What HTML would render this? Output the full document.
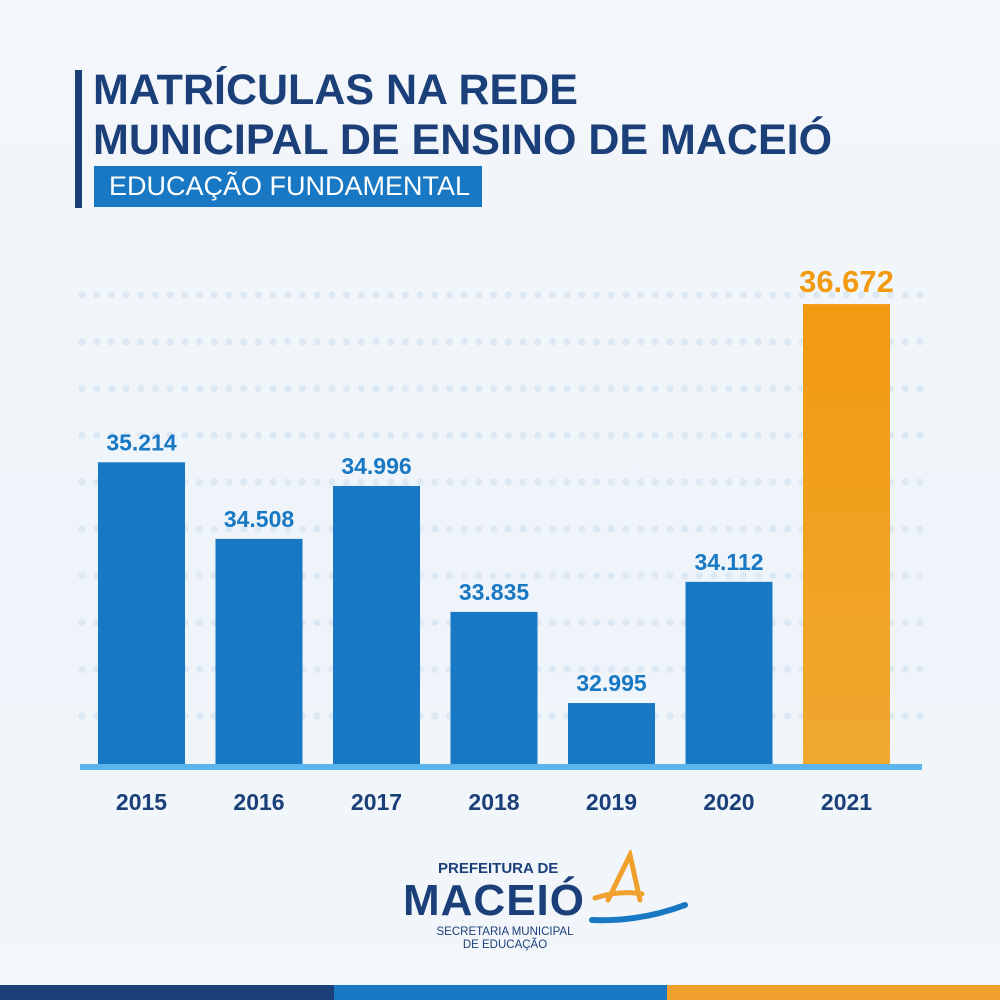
<!DOCTYPE html>
<html><head><meta charset="utf-8">
<style>
html,body{margin:0;padding:0}
body{width:1000px;height:1000px;overflow:hidden;background:linear-gradient(180deg,#f4f7fb 0%,#eef4fa 60%,#f3f7fb 100%);font-family:"Liberation Sans",sans-serif;position:relative}
.abs{position:absolute}
</style></head><body>
<div class="abs" style="left:75px;top:70px;width:7px;height:138px;background:#1b3f78"></div>
<div class="abs" style="left:93px;top:65px;font-weight:bold;font-size:43px;line-height:50px;color:#1b3f78;letter-spacing:0px">MATRÍCULAS NA REDE<br>MUNICIPAL DE ENSINO DE MACEIÓ</div>
<div class="abs" style="left:94px;top:166px;width:388px;height:41px;background:#1878c3;color:#fff;font-size:27px;line-height:41px;padding-left:15px;box-sizing:border-box">EDUCAÇÃO FUNDAMENTAL</div>
<svg class="abs" style="left:0;top:0" width="1000" height="1000" id="chart"></svg>
<div class="abs" style="left:400px;top:850px;width:300px;height:110px">
  <div class="abs" style="left:38px;top:10px;font-weight:bold;font-size:15px;color:#1b3f78">PREFEITURA DE</div>
  <div class="abs" style="left:3px;top:26px;font-weight:900;font-size:44px;color:#1b3f78;letter-spacing:1px">MACEIÓ</div>
  <svg class="abs" style="left:180px;top:0" width="110" height="80">
    <path d="M28 50 L50 5 L60 50 M15 48 Q40 40 62 44" stroke="#f0a02c" stroke-width="5" fill="none" stroke-linecap="round"/>
    <path d="M12 70 Q60 72 105 55" stroke="#1878c3" stroke-width="6" fill="none" stroke-linecap="round"/>
  </svg>
  <div class="abs" style="left:30px;top:76px;font-size:11.5px;color:#1b3f78;text-align:center;width:150px;line-height:13px">SECRETARIA MUNICIPAL<br>DE EDUCAÇÃO</div>
</div>
<div class="abs" style="left:0;top:985px;width:334px;height:15px;background:#1b3f78"></div>
<div class="abs" style="left:334px;top:985px;width:333px;height:15px;background:#1878c3"></div>
<div class="abs" style="left:667px;top:985px;width:333px;height:15px;background:#f0a02c"></div>
<script>
const categories=["2015","2016","2017","2018","2019","2020","2021"];
const values=[35214,34508,34996,33835,32995,34112,36672];
const valueLabels=["35.214","34.508","34.996","33.835","32.995","34.112","36.672"];
const svg=document.getElementById('chart');
const NS="http://www.w3.org/2000/svg";
const baseY=765, v0=32424, k=0.1085;
function y(v){return baseY-(v-v0)*k;}
function x(i){return 98+i*117.5;}
const bw=87;
for(let r=0;r<10;r++){
  const gy=295+r*46.8;
  for(let c=0;c<58;c++){
    const d=document.createElementNS(NS,'circle');
    
    
    d.setAttribute('cx',82+c*14.7);d.setAttribute('cy',gy);d.setAttribute('r',3.6);d.setAttribute('fill','#dce8f4');
    svg.appendChild(d);
  }
}
const defs=document.createElementNS(NS,'defs');
defs.innerHTML='<linearGradient id="og" x1="0" y1="0" x2="0" y2="1"><stop offset="0" stop-color="#f29a10"/><stop offset="1" stop-color="#f0a830"/></linearGradient>';
svg.appendChild(defs);
categories.forEach((c,i)=>{
  const last=i===categories.length-1;
  const top=y(values[i]);
  const r=document.createElementNS(NS,'rect');
  
  
  r.setAttribute('x',x(i));r.setAttribute('y',top);r.setAttribute('width',bw);r.setAttribute('height',baseY-top);
  r.setAttribute('fill',last?'url(#og)':'#1878c3');
  svg.appendChild(r);
  const t=document.createElementNS(NS,'text');
  
  
  t.setAttribute('x',x(i)+bw/2);t.setAttribute('y',top-12);t.setAttribute('text-anchor','middle');
  t.setAttribute('font-family','Liberation Sans, sans-serif');t.setAttribute('font-weight','bold');
  t.setAttribute('font-size',last?31:23);t.setAttribute('fill',last?'#f29a10':'#1878c3');
  t.textContent=valueLabels[i];
  svg.appendChild(t);
  const l=document.createElementNS(NS,'text');
  
  
  l.setAttribute('x',x(i)+bw/2);l.setAttribute('y',810);l.setAttribute('text-anchor','middle');
  l.setAttribute('font-family','Liberation Sans, sans-serif');l.setAttribute('font-weight','bold');
  l.setAttribute('font-size',23);l.setAttribute('fill','#1b3f78');
  l.textContent=c;
  svg.appendChild(l);
});
const base=document.createElementNS(NS,'rect');


base.setAttribute('x',80);base.setAttribute('y',baseY-1);base.setAttribute('width',842);base.setAttribute('height',6);base.setAttribute('fill','#5bb4ec');
svg.appendChild(base);
</script>
</body></html>
